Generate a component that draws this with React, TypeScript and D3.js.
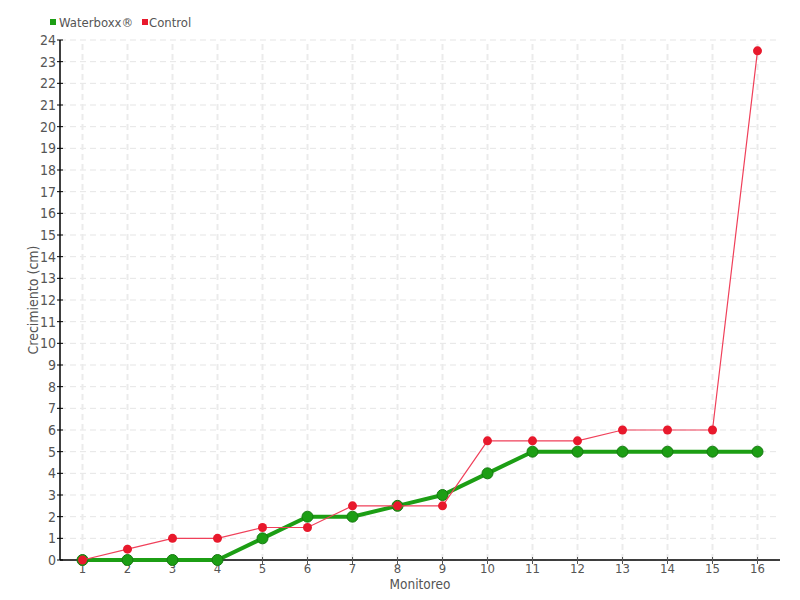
import React from "react";
import * as d3 from "d3";

const monitoreos = d3.range(1, 17);
const waterboxx = [0, 0, 0, 0, 1, 2, 2, 2.5, 3, 4, 5, 5, 5, 5, 5, 5];
const control = [0, 0.5, 1, 1, 1.5, 1.5, 2.5, 2.5, 2.5, 5.5, 5.5, 5.5, 6, 6, 6, 23.5];
const yTicks = d3.range(0, 25);

const W = 800;
const H = 600;
const margin = { top: 40, right: 20, bottom: 40, left: 60 };
const font = "'Liberation Sans Narrow', 'DejaVu Sans Condensed', sans-serif";

export default function App() {
  const x = d3.scaleLinear().domain([0.5, 16.5]).range([margin.left, W - margin.right]);
  const y = d3.scaleLinear().domain([0, 24]).range([H - margin.bottom, margin.top]);

  const line = d3
    .line<number>()
    .x((_, i) => x(monitoreos[i]))
    .y((d) => y(d));

  const green = "#1c9e14";
  const red = "#e8192c";

  return (
    <svg width={W} height={H} style={{ position: "absolute", left: 0, top: 0, background: "#fff" }}>
      {/* grid */}
      {yTicks.map((t) => (
        <line key={"gy" + t} x1={x(0.5)} x2={x(16.5)} y1={y(t)} y2={y(t)}
          stroke="#e5e5e5" strokeDasharray="6,4" strokeWidth={1} />
      ))}
      {monitoreos.map((m) => (
        <line key={"gx" + m} x1={x(m)} x2={x(m)} y1={y(0)} y2={y(24)}
          stroke="#ebebeb" strokeDasharray="6,4" strokeWidth={2} />
      ))}

      {/* axes */}
      <line x1={x(0.5)} x2={x(16.5)} y1={y(0)} y2={y(0)} stroke="#000" strokeWidth={1.5} />
      <line x1={x(0.5)} x2={x(0.5)} y1={y(0)} y2={y(24)} stroke="#000" strokeWidth={1.5} />
      {yTicks.map((t) => (
        <g key={"ty" + t}>
          <line x1={x(0.5) - 3} x2={x(0.5) + 3} y1={y(t)} y2={y(t)} stroke="#000" />
          <text x={x(0.5) - 4} y={y(t)} dy="0.35em" textAnchor="end"
            fontFamily={font} fontSize={14} fill="#555">{t}</text>
        </g>
      ))}
      {monitoreos.map((m) => (
        <g key={"tx" + m}>
          <line x1={x(m)} x2={x(m)} y1={y(0) - 3} y2={y(0) + 4} stroke="#555" />
          <text x={x(m)} y={y(0) + 13} textAnchor="middle"
            fontFamily={font} fontSize={13} fill="#555">{m}</text>
        </g>
      ))}
      <text x={420} y={589} textAnchor="middle" fontFamily={font} fontSize={13.5} fill="#555">Monitoreo</text>
      <text transform={`translate(38, ${y(12)}) rotate(-90)`} textAnchor="middle"
        fontFamily={font} fontSize={14} fill="#555">Crecimiento (cm)</text>

      {/* series */}
      <path d={line(waterboxx) ?? ""} fill="none" stroke={green} strokeWidth={4} />
      {waterboxx.map((v, i) => (
        <circle key={"w" + i} cx={x(monitoreos[i])} cy={y(v)} r={5.5} fill={green} stroke="#157a10" strokeWidth={1} />
      ))}
      <path d={line(control) ?? ""} fill="none" stroke="#f0405a" strokeWidth={1.2} />
      {control.map((v, i) => (
        <circle key={"c" + i} cx={x(monitoreos[i])} cy={y(v)} r={4.5} fill={red} />
      ))}

      {/* legend */}
      <rect x={50} y={19} width={6} height={6} fill={green} />
      <text x={59} y={22} dy="0.35em" fontFamily={font} fontSize={13} fill="#555">Waterboxx®</text>
      <rect x={142} y={19} width={6} height={6} fill={red} />
      <text x={149} y={22} dy="0.35em" fontFamily={font} fontSize={13} fill="#555">Control</text>
    </svg>
  );
}
